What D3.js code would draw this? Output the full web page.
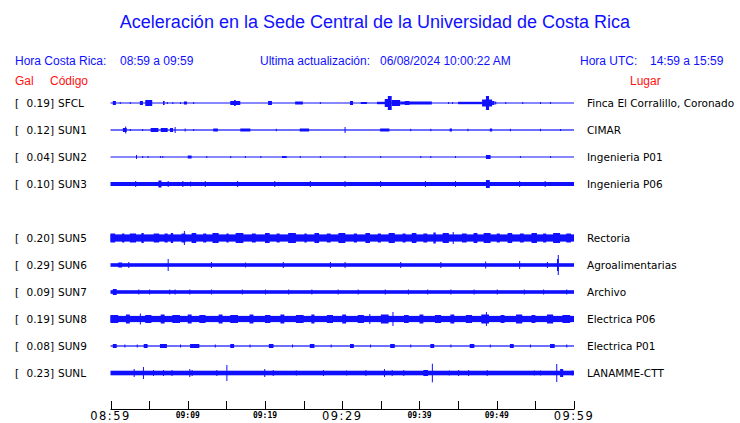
<!DOCTYPE html>
<html><head><meta charset="utf-8">
<script src="https://cdn.jsdelivr.net/npm/d3@7"></script>
<style>body{margin:0;background:#fff}svg{display:block}</style>
</head><body><svg id="c" width="740" height="423"></svg>
<script>
// ---------- DATA ----------
const codes = ["SFCL","SUN1","SUN2","SUN3","SUN4","SUN5","SUN6","SUN7","SUN8","SUN9","SUNL"];
const gal   = ["0.19","0.12","0.04","0.10",null,"0.20","0.29","0.09","0.19","0.08","0.23"];
const places = ["Finca El Corralillo, Coronado","CIMAR","Ingenieria P01","Ingenieria P06",null,"Rectoria","Agroalimentarias","Archivo","Electrica P06","Electrica P01","LANAMME-CTT"];
// base noise half-amplitude per trace
const baseAmp = [0.5,0.6,0.5,2.0,null,3.6,1.8,1.8,3.1,0.6,2.3];
// events: [start minute, duration minutes, half-amplitude]
const evSFCL = [[0.3,0.4,2],[1.2,0,1],[2.5,0,1],[3.8,0.4,2],[4.5,0.9,3],[6.8,0.2,2],[7.3,0,1],[8.0,0,1],[9.0,0,1],[9.5,0.4,1.5],[10.7,0,1],[15.5,1.3,2],[16.0,0.2,3],[20.4,0.5,2],[23.9,1.0,1.5],[27.1,0,1],[31.0,0.4,2],[32.4,0.8,1],[34.5,1.3,1.2],[35.5,0.6,4],[35.9,0.5,7],[36.4,1.1,3],[37.5,4.1,1.5],[38.1,0.6,2],[43.7,0,1],[44.2,0,1],[45.0,3.1,1.2],[48.1,1.3,3.5],[48.6,0.4,7],[49.4,0.3,2],[49.8,0,1.5],[51.1,0,1],[53.3,0,1],[55.6,0,1],[56.9,0,1]];
const evSUN1 = [[1.6,0.5,2],[1.9,0,3.5],[2.5,0,1],[4.1,0,1],[5.2,1.0,2],[6.5,0.9,2],[7.7,0.4,2],[8.3,0,3],[9.6,0,1.5],[10.7,0,1],[13.3,0.6,1.5],[16.8,1.3,1.5],[21.4,0,1.2],[24.5,1.2,1.5],[30.3,0,3],[34.9,1.2,1.5],[38.8,0,1.2],[41.4,0,1.2],[43.9,0.3,1.5],[46.2,0,1.2],[49.1,0.3,1.5],[51.7,0,1.2],[55.6,0,1.2],[58.2,0,1]];
const evSUN2 = [[3.3,0,2],[4.1,0,1],[4.8,0,1],[6.4,0,1],[6.7,0,1],[10.0,0.5,1.5],[12.4,0,1],[15.5,0,1],[17.4,0,1],[19.4,0,1],[22.2,0.6,1],[24.5,0,1],[27.1,0,1],[30.3,0,1],[34.9,0,1],[40.1,0,1],[41.4,0,1],[44.6,0,1],[48.6,0.6,2],[53.0,0,1],[56.9,0,1]];
const evSUN3 = [[3.2,0,3],[6.2,0.4,3.5],[7.4,0,3],[9.3,0,3],[10.3,0,2.5],[12.2,0,3],[16.4,0,3],[21.2,0,3],[25.8,0,3],[30.3,0,3],[34.9,0,3],[40.7,0,3],[44.6,0,3],[48.6,0.5,4],[52.9,0,3],[56.2,0,3]];
const evSUN5 = [[0,0.6,4.5],[1.5,0.3,4.5],[2.5,0.8,4.5],[4.0,0.3,5],[5.6,0.7,4.5],[7.0,0.4,4.5],[7.8,0.3,5],[9.2,0.5,4.5],[9.5,0,7],[10.5,0.6,5],[12.0,0.4,4.5],[13.2,0.8,5],[15.0,0.3,4.5],[16.2,1.0,5],[18.3,0.5,4.5],[20.0,0.6,5],[21.5,0.4,4.5],[23.0,1.0,5],[25.1,0.3,4.5],[26.4,0.6,5],[28.0,0.5,4.5],[29.5,0.9,5],[31.5,0.4,4.5],[33.0,0.6,5],[34.6,0.4,4.5],[36.0,0.8,5],[37.8,0.4,4.5],[39.0,0.6,5],[40.5,0.5,4.5],[41.8,0.3,5.5],[43.0,0.8,5],[44.3,0,6],[45.5,0.6,4.5],[47.0,0.5,5],[48.3,0.9,5],[50.0,0.4,4.5],[51.4,0.6,5],[53.0,0.5,4.5],[54.5,0.7,5],[56.0,0.4,4.5],[57.3,0.9,5],[59.0,0.6,4.5]];
const evSUN6 = [[1.0,0.5,2.5],[2.3,0,3],[7.4,0,6],[13.0,0,3],[17.4,0,2.5],[22.3,0,3],[28.4,0,3],[30.3,0,3],[37.5,0,3],[42.7,0,3],[48.5,0,3.5],[52.9,0,4],[56.5,0,3],[57.8,0.2,6],[57.9,0,10]];
const evSUN7 = [[0.3,0.5,3],[3.6,0,2.5],[5.0,0,2.5],[7.6,0,2.5],[8.3,0,2.5],[10.2,0,2.5],[13.0,0,2.5],[17.0,0,2.5],[20.0,0,2.5],[23.0,0,2.5],[26.0,0,2.5],[29.4,0,2.5],[32.0,0,2.5],[35.5,0,2.5],[38.5,0,2.5],[41.0,0,2.5],[44.0,0,2.5],[47.0,0,2.5],[50.0,0,2.5],[53.5,0,2.5],[56.0,0,2.5],[59.0,0,2.5]];
const evSUN8 = [[0,1.0,4],[2.0,0.5,4.5],[3.8,0,5.5],[4.5,0.8,4],[6.5,0.5,4.5],[8.0,1.0,4],[10.0,0.5,4.5],[11.5,0.8,4],[14.0,0.5,4.5],[15.5,1.0,4],[18.0,0.5,4.5],[20.0,0.7,4],[22.0,0.5,4.5],[24.0,1.0,4],[26.0,0.4,4.5],[28.0,0.8,4],[30.0,0.5,4.5],[32.0,0.8,4],[33.5,0,5],[35.0,1.0,4.5],[36.5,0,7],[38.0,0.6,4],[40.0,0.5,4.5],[42.0,0.8,4],[44.0,0.5,4.5],[46.0,0.8,4],[48.0,1.0,4.5],[48.6,0,7],[50.5,0.5,4],[52.5,0.8,4.5],[54.5,0.5,4],[56.5,0.8,4.5],[58.5,1.0,4]];
const evSUN9 = [[0.3,0.5,2],[1.8,0,1.5],[3.4,0,1.5],[4.3,0.5,2],[6.4,0.9,2],[9.0,0,1.5],[10.3,1.2,2],[13.5,0,1.5],[15.5,0.5,2],[18.0,0,1.5],[20.5,0.6,2],[23.5,0,1.5],[25.8,0.6,2],[28.5,0,1.5],[31.0,0.5,2],[33.6,0,1.5],[36.2,0.6,2],[38.8,0,1.5],[41.4,0.5,2],[44.0,0,1.5],[46.5,0.6,2],[49.1,0,1.5],[51.7,0.5,2],[54.3,0,1.5],[56.9,0.6,2],[59.0,0,1.5]];
const evSUNL = [[3.0,0,4],[4.2,0,6],[5.5,0,3],[6.8,0,3],[7.9,0,3],[10.2,0,4],[10.5,0,3],[13.7,0,3],[15.0,0,8],[19.9,0,4],[21.0,0,3],[24.0,0,2.5],[27.5,0,3],[30.5,0,2.5],[33.0,0,3],[35.4,0,4],[36.4,0,3],[37.9,0,3],[40.5,0.6,3],[41.6,0,9.3],[43.8,0,2.5],[45.0,0,3],[46.3,0,3],[48.7,0,3],[49.8,0,2],[54.8,0,2.5],[55.6,0,2.5],[57.7,0,9],[58.2,0.4,4],[59.7,0,2.5]];
const events = [evSFCL,evSUN1,evSUN2,evSUN3,null,evSUN5,evSUN6,evSUN7,evSUN8,evSUN9,evSUNL];
const tickMinutes = [0,5,10,15,20,25,30,35,40,45,50,55,60];
const tickLabels = {0:"08:59",10:"09:09",20:"09:19",30:"09:29",40:"09:39",50:"09:49",60:"09:59"};
const bigTicks = [0,30,60];

// ---------- DRAW ----------
const svg = d3.select("#c");
const BLUE = "#1010ff";
const x = d3.scaleLinear().domain([0,60]).range([110.5,574]);
const row = d3.scaleLinear().domain([0,10]).range([103,373]);
const amp = d3.scaleLinear().domain([0,10]).range([0,10]);

svg.append("text").attr("x",375).attr("y",28).attr("text-anchor","middle")
  .attr("font-family","Liberation Sans, Arial, sans-serif").attr("font-size",18).attr("fill",BLUE)
  .text("Aceleración en la Sede Central de la Universidad de Costa Rica");

const hdr = [[15,65,"Hora Costa Rica:",BLUE],[120,65,"08:59 a 09:59",BLUE],[260,65,"Ultima actualización:",BLUE],[380,65,"06/08/2024 10:00:22 AM",BLUE],[580,65,"Hora UTC:",BLUE],[650,65,"14:59 a 15:59",BLUE],[15,85,"Gal","#ff1010"],[50,85,"Código","#ff1010"],[630,85,"Lugar","#ff1010"]];
svg.append("g").selectAll("text").data(hdr).join("text")
  .attr("x",d=>d[0]).attr("y",d=>d[1]).attr("fill",d=>d[3])
  .attr("font-family","Liberation Sans, Arial, sans-serif").attr("font-size",12).text(d=>d[2]);

const lab = svg.append("g").attr("font-family","DejaVu Sans, sans-serif").attr("font-size",10.5).attr("fill","#000");
codes.forEach((c,i)=>{
  if(gal[i]===null) return;
  const y = row(i);
  lab.append("text").attr("x",15).attr("y",y+4).text("[");
  lab.append("text").attr("x",54).attr("y",y+4).attr("text-anchor","end").text(gal[i]+"]");
  lab.append("text").attr("x",58).attr("y",y+4).text(c);
  lab.append("text").attr("x",587).attr("y",y+4).text(places[i]);

  const g = svg.append("g").attr("fill",BLUE);
  const b = Math.max(amp(baseAmp[i]),0.5);
  g.append("rect").attr("x",x(0)).attr("width",x(60)-x(0)).attr("y",y-b).attr("height",2*b);
  g.selectAll("rect.e").data(events[i]).join("rect").attr("class","e")
    .attr("x",d=>Math.min(x(d[0]),x(60)-1))
    .attr("width",d=>Math.max(x(d[0]+d[1])-x(d[0]),1))
    .attr("y",d=>y-amp(d[2])).attr("height",d=>2*amp(d[2]));
});

// axis
const ax = svg.append("g").attr("stroke","#000").attr("stroke-width",1);
ax.append("line").attr("x1",x(0)).attr("x2",x(60)).attr("y1",409.5).attr("y2",409.5);
ax.selectAll("line.t").data(tickMinutes).join("line").attr("class","t")
  .attr("x1",d=>Math.round(x(d))+0.5).attr("x2",d=>Math.round(x(d))+0.5).attr("y1",401).attr("y2",409.5);
svg.append("g").selectAll("text").data(tickMinutes.filter(m=>tickLabels[m])).join("text")
  .attr("x",d=>x(d)).attr("text-anchor","middle")
  .attr("y",d=>bigTicks.includes(d)?420:417.5)
  .attr("font-family",d=>bigTicks.includes(d)?"DejaVu Sans, sans-serif":"DejaVu Sans Mono, monospace")
  .attr("font-size",d=>bigTicks.includes(d)?11.5:8)
  .attr("font-weight",d=>bigTicks.includes(d)?"normal":"bold")
  .attr("letter-spacing",d=>bigTicks.includes(d)?1.5:0)
  .text(d=>tickLabels[d]);
</script></body></html>
